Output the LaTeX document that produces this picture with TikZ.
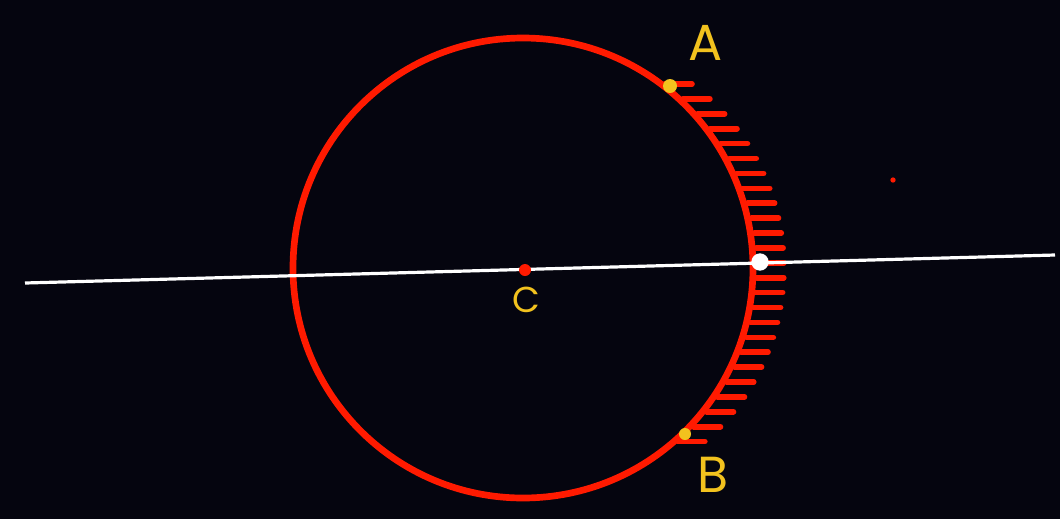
\documentclass[tikz,border=0pt]{standalone}
\usepackage{fontspec}
\setmainfont{Poppins}
\definecolor{bg}{HTML}{05050F}
\definecolor{cred}{HTML}{FF1A00}
\definecolor{lab}{HTML}{F2C21E}
\tikzset{
  labeltext/.style={text=lab, inner sep=0pt, font=\fontsize{38}{38}\selectfont},
  hatchline/.style={draw=cred, line width=4.2pt, line cap=round},
  ptdot/.style={circle, inner sep=0pt, minimum size=#1},
}
\begin{document}
\begin{tikzpicture}[x=0.75pt,y=-0.75pt]
\fill[bg] (0,0) rectangle (1060,519);
\useasboundingbox (0,0) rectangle (1060,519);
% circle
\coordinate (c) at (523,268);
\draw[cred, line width=5pt] (c) circle [radius=172.5pt];
% hatching
\foreach \i in {0,...,24}{
  \pgfmathsetmacro{\yy}{84+\i*14.9}
  \pgfmathsetmacro{\xx}{523+100*sqrt(2.3*2.3-((\yy-268)/100)^2)}
  \draw[hatchline] (\xx+4,\yy) -- ++(27,0);
}
% line through centre
\coordinate (l1) at (25,283);
\coordinate (l2) at (1055,255);
\draw[white, line width=2.4pt] (l1) -- (l2);
% dots
\node[ptdot=9pt, fill=cred] (cdot) at (525,270) {};
\node[ptdot=13pt, fill=white] (w) at (760,262) {};
\node[ptdot=10.5pt, fill=lab] (adot) at (670,86) {};
\node[ptdot=9pt, fill=lab] (bdot) at (685,434) {};
\node[ptdot=4pt, fill=cred] (far) at (893,180) {};
% labels
\node[labeltext] (A) at (706,43) {A};
\node[labeltext] (B) at (713,475) {B};
\node[labeltext, font=\fontsize{27}{27}\selectfont] (C) at (526,300) {C};
\end{tikzpicture}
\end{document}
